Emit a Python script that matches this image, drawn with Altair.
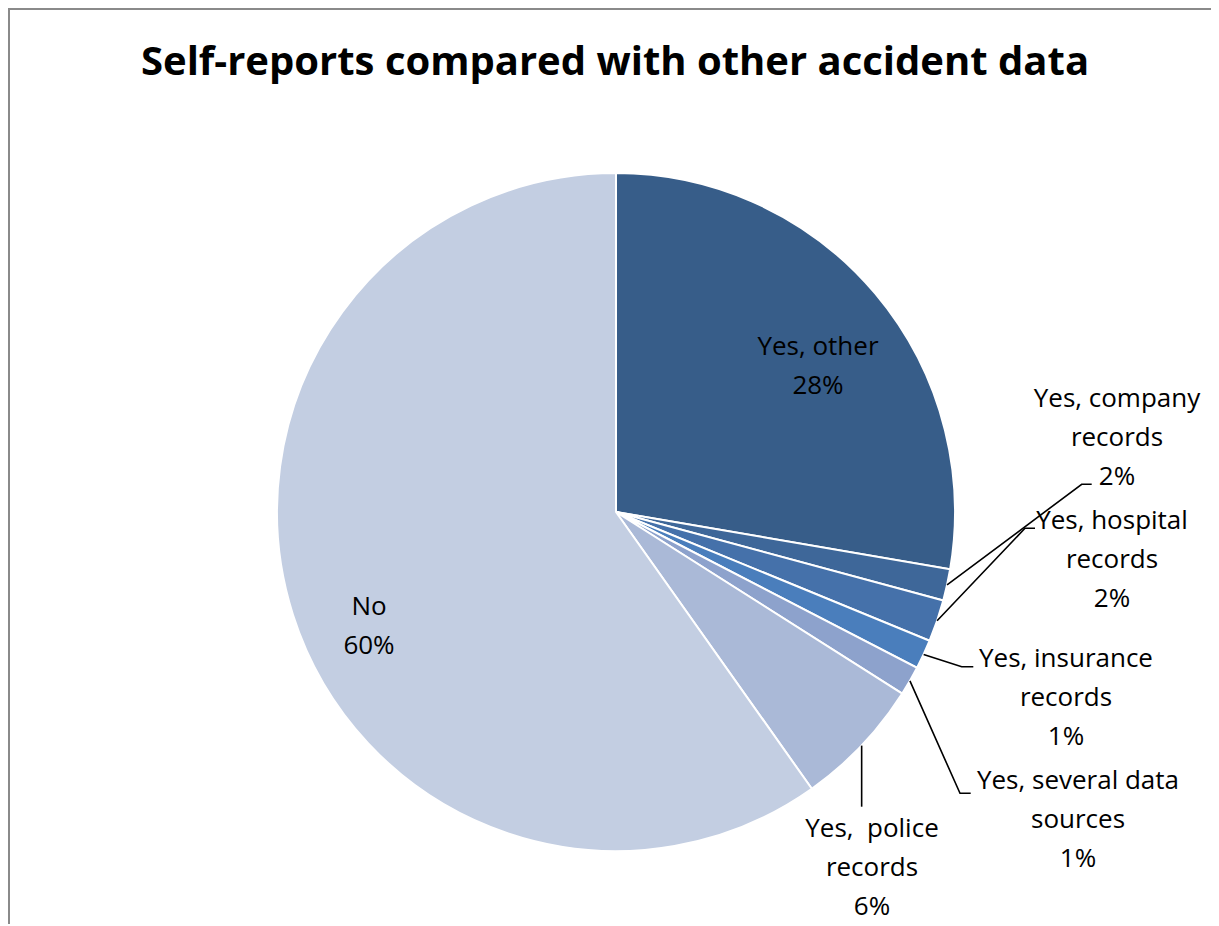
import math
import altair as alt
import pandas as pd

# ---- data ----
categories = [
    "Yes, other",
    "Yes, company records",
    "Yes, hospital records",
    "Yes, insurance records",
    "Yes, several data sources",
    "Yes, police records",
    "No",
]
values = [27.7, 1.5, 2.0, 1.4, 1.4, 6.2, 59.8]
colors = ["#375D89", "#3E6799", "#4571AA", "#4A7EBC", "#8DA2CC", "#AAB9D7", "#C3CEE2"]
label_lines = [
    ["Yes, other"],
    ["Yes, company", "records"],
    ["Yes, hospital", "records"],
    ["Yes, insurance", "records"],
    ["Yes, several data", "sources"],
    ["Yes,\u00a0\u00a0police", "records"],
    ["No"],
]
title_text = "Self-reports compared with other accident data"

# ---- layout (annotation positions, chart pixel coords) ----
W, H = 1203, 916
CX, CY, R = 608, 504, 339
FONT = "Open Sans"
label_anchor = [  # x, first-line y
    (810, 339), (1109, 391), (1104, 513), (1058, 651), (1070, 773), (864, 821), (361, 599)
]
LINE_H = 39
# leader lines: elbow and end point per external label (None = inside label)
leaders = [
    None,
    ((1073.7, 476.3), (1083.7, 476.3)),
    ((1017.0, 520.3), (1027.0, 520.3)),
    ((953.7, 658.7), (965.3, 658.7)),
    ((952.0, 785.3), (962.7, 785.3)),
    ("vertical", 798.7),
    None,
]

total = sum(values)
pie_df = pd.DataFrame({"category": categories, "value": values, "order": list(range(len(categories)))})

# text rows
text_rows = []
for i, cat in enumerate(categories):
    x0, y0 = label_anchor[i]
    lines = label_lines[i] + [f"{round(values[i] / total * 100)}%"]
    for j, t in enumerate(lines):
        text_rows.append({"tx": x0, "ty": y0 + j * LINE_H, "txt": t})
text_df = pd.DataFrame(text_rows)

# leader rows: start at pie edge at slice mid-angle
lead_rows = []
cum = 0.0
for i, cat in enumerate(categories):
    mid = (cum + values[i] / 2) / total * 2 * math.pi
    cum += values[i]
    ld = leaders[i]
    if ld is None:
        continue
    ex, ey = CX + R * math.sin(mid), CY - R * math.cos(mid)
    if ld[0] == "vertical":
        pts = [(ex, ey), (ex, ld[1])]
    else:
        pts = [(ex, ey), ld[0], ld[1]]
    for k, (px, py) in enumerate(pts):
        lead_rows.append({"category": cat, "k": k, "lx": px, "ly": py})
lead_df = pd.DataFrame(lead_rows)

pie = alt.Chart(pie_df).mark_arc(radius=R, stroke="white", strokeWidth=2).encode(
    theta=alt.Theta("value:Q", stack=True),
    order=alt.Order("order:Q"),
    color=alt.Color("category:N", scale=alt.Scale(domain=categories, range=colors), legend=None),
    x=alt.value(CX),
    y=alt.value(CY),
)

leader_lines = alt.Chart(lead_df).mark_line(color="black", strokeWidth=1.6).encode(
    x=alt.X("lx:Q", scale=None),
    y=alt.Y("ly:Q", scale=None),
    detail="category:N",
    order="k:Q",
)

labels = alt.Chart(text_df).mark_text(
    font=FONT, fontSize=26, color="black", align="center", baseline="middle"
).encode(
    x=alt.X("tx:Q", scale=None),
    y=alt.Y("ty:Q", scale=None),
    text="txt:N",
)

title = alt.Chart(pd.DataFrame({"t": [title_text]})).mark_text(
    font=FONT, fontSize=40, fontWeight="bold", color="black", align="center", baseline="middle"
).encode(x=alt.value(607), y=alt.value(55), text="t:N")

frame_top = alt.Chart(pd.DataFrame({"a": [0]})).mark_rule(color="#8A8A8A", strokeWidth=2).encode(
    x=alt.value(0), x2=alt.value(W), y=alt.value(1)
)
frame_left = alt.Chart(pd.DataFrame({"a": [0]})).mark_rule(color="#8A8A8A", strokeWidth=2).encode(
    x=alt.value(1), y=alt.value(0), y2=alt.value(H)
)

chart = alt.layer(frame_top, frame_left, pie, leader_lines, labels, title).properties(
    width=W, height=H, padding=0, autosize=alt.AutoSizeParams(type="none")
).configure_view(stroke=None).configure(background="white")

chart.save("out.html", embed_options={"renderer": "svg", "actions": False})
